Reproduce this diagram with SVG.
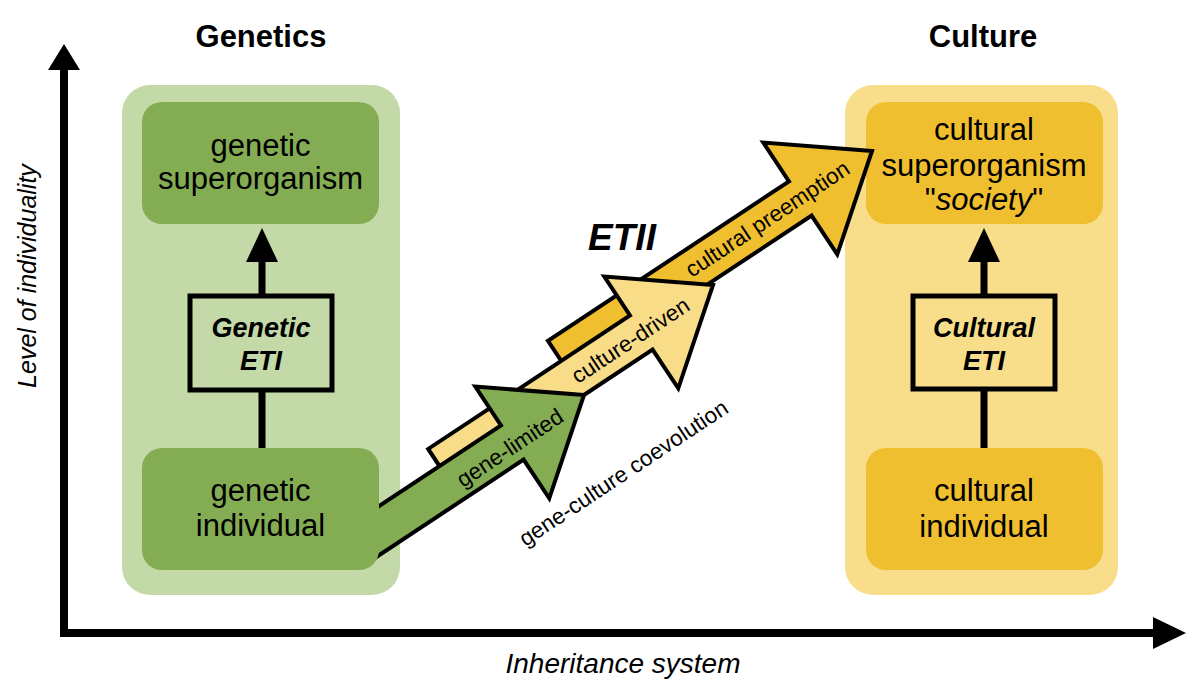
<svg xmlns="http://www.w3.org/2000/svg" width="1200" height="693" viewBox="0 0 1200 693">
<style>
text{font-family:"Liberation Sans",Arial,Helvetica,sans-serif;fill:#000}
.title{font-size:31px;font-weight:bold}
.lbl{font-size:31px}
.eti{font-size:27px;font-weight:bold;font-style:italic}
.etibox{stroke:#000;stroke-width:5}
.arr{stroke:#000;stroke-width:4;stroke-linejoin:miter}
.al{font-size:22.5px}
.ax{font-size:28px;font-style:italic}
.vline{stroke:#000;stroke-width:7;fill:none}
.lg{fill:#c3d9a7}
.dg{fill:#84ad53}
.ly{fill:#f8de8a}
.dy{fill:#f0bf30}
</style>
<rect width="1200" height="693" fill="#fff"/>
<g id="axes">
<path d="M64,637 V66 M60,633 H1156" stroke="#000" stroke-width="8" fill="none"/>
<polygon points="48,70 64,44 80,70"/>
<polygon points="1153,617 1186,633 1153,649"/>
<text class="ax" x="623" y="673" text-anchor="middle">Inheritance system</text>
<text class="ax" style="font-size:25px" transform="translate(36,276) rotate(-90)" text-anchor="middle">Level of individuality</text>
</g>
<g id="genetics-panel">
<rect class="lg" x="122" y="85" width="278" height="510" rx="28"/>
<text class="title" x="261" y="47" text-anchor="middle">Genetics</text>
</g>
<g id="culture-panel">
<rect class="ly" x="845" y="85" width="273" height="510" rx="28"/>
<text class="title" x="983" y="47" text-anchor="middle">Culture</text>
</g>
<g id="cultural-superorganism">
<rect class="dy" x="866" y="102" width="237" height="122" rx="20"/>
<text class="lbl" x="984" text-anchor="middle"><tspan x="984" y="140">cultural</tspan><tspan x="984" y="176">superorganism</tspan><tspan x="984" y="210">"<tspan font-style="italic">society</tspan>"</tspan></text>
</g>
<g id="cultural-eti">
<rect class="ly etibox" x="913" y="296" width="142" height="93"/>
<text class="eti" text-anchor="middle"><tspan x="984" y="337">Cultural</tspan><tspan x="984" y="370">ETI</tspan></text>
</g>
<g id="cultural-individual">
<rect class="dy" x="866" y="448" width="237" height="122" rx="20"/>
<text class="lbl" text-anchor="middle"><tspan x="984" y="501">cultural</tspan><tspan x="984" y="537">individual</tspan></text>
</g>
<g id="connectors">
<path class="vline" d="M262,448 V390 M262,296 V258"/>
<polygon points="246,262 262,228 278,262"/>
<path class="vline" d="M984,448 V389 M984,296 V258"/>
<polygon points="968,262 984,228 1000,262"/>
<g id="arrow-cultural-preemption" transform="translate(872,151) rotate(-33.5)">
<polygon class="arr dy" points="0,0 -86,-67 -86,-20.5 -375,-20.5 -375,20.5 -86,20.5 -86,67"/>
</g>
<g id="arrow-culture-driven" transform="translate(713,285) rotate(-33.5)">
<polygon class="arr" fill="#f8dc88" points="0,0 -86,-67 -86,-20.5 -328,-20.5 -328,20.5 -86,20.5 -86,67"/>
</g>
<g id="arrow-gene-limited" transform="translate(584,395) rotate(-33.5)">
<polygon class="arr dg" points="0,0 -86,-67 -86,-20.5 -272,-20.5 -272,20.5 -86,20.5 -86,67"/>
</g>
<text class="al" transform="translate(510,448) rotate(-33.5)" x="0" y="7.5" text-anchor="middle">gene-limited</text>
<text class="al" transform="translate(630.5,340.5) rotate(-33.5)" x="0" y="7.5" text-anchor="middle">culture-driven</text>
<text class="al" transform="translate(767.5,219) rotate(-33.5)" x="0" y="7.5" text-anchor="middle">cultural preemption</text>
<text class="al" transform="translate(623.5,473) rotate(-33.5)" x="0" y="7.5" text-anchor="middle">gene-culture coevolution</text>
<text x="622" y="250" text-anchor="middle" style="font-size:37px;font-weight:bold;font-style:italic">ETII</text>
</g>
<g id="genetic-superorganism">
<rect class="dg" x="142" y="102" width="237" height="122" rx="20"/>
<text class="lbl" text-anchor="middle"><tspan x="260.5" y="156">genetic</tspan><tspan x="260.5" y="189">superorganism</tspan></text>
</g>
<g id="genetic-eti">
<rect class="lg etibox" x="190" y="296" width="142" height="94"/>
<text class="eti" text-anchor="middle"><tspan x="261" y="337">Genetic</tspan><tspan x="261" y="370">ETI</tspan></text>
</g>
<g id="genetic-individual">
<rect class="dg" x="142" y="448" width="237" height="122" rx="20"/>
<text class="lbl" text-anchor="middle"><tspan x="260.5" y="501">genetic</tspan><tspan x="260.5" y="536">individual</tspan></text>
</g>
</svg>
